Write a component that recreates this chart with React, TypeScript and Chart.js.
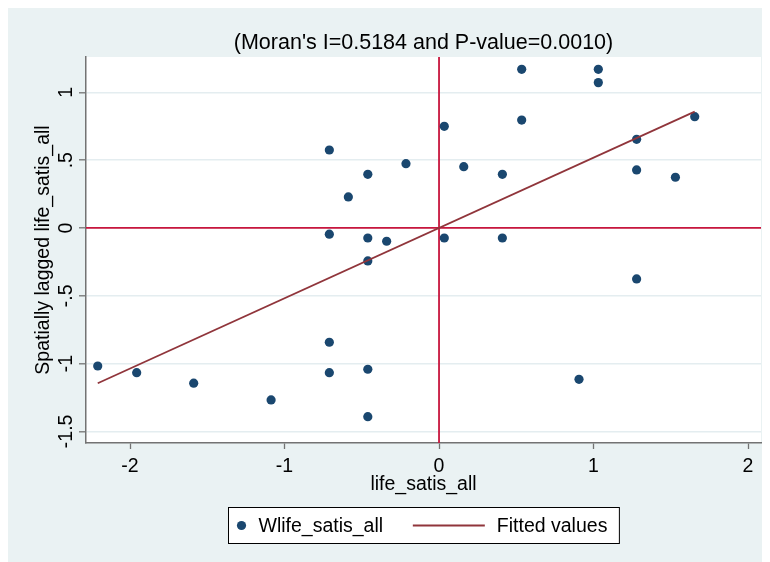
import React, { useEffect, useRef } from 'react';
import { Chart, registerables } from 'chart.js';

Chart.register(...registerables);

// ---- Data ----
const lifeSatisAll = [
  -0.71, -0.461, -0.587, -0.214, 0.034, -0.71, -0.461, -0.339, -0.461, 0.034,
  0.535, 1.031, 1.031, 0.535, 0.16, 0.41, 1.279, 1.279, 1.53, 1.655, 0.41,
  -2.209, -1.957, -1.588, -1.087, -0.71, -0.71, -0.461, -0.461, 1.279, 0.906,
];
const wLifeSatisAll = [
  0.575, 0.396, 0.229, 0.474, 0.75, -0.046, -0.074, -0.098, -0.243, -0.074,
  1.17, 1.17, 1.072, 0.796, 0.452, 0.396, 0.654, 0.428, 0.374, 0.821, -0.074,
  -1.018, -1.067, -1.145, -1.268, -0.843, -1.067, -1.042, -1.392, -0.376, -1.116,
];
const fittedX = [-2.209, 1.655];
const fittedY = [-1.145, 0.858];
const refLineX = 0;
const refLineY = 0;
const xRange = [-2.285, 2.084];
const yRange = [-1.586, 1.261];
const xStep = 1;
const yStep = 0.5;

const titleText = "(Moran's I=0.5184 and P-value=0.0010)";
const xTitle = 'life_satis_all';
const yTitle = 'Spatially lagged life_satis_all';
const seriesNames = ['Wlife_satis_all', 'Fitted values'];

// ---- Styles ----
const FONT = '"Liberation Sans", Arial, Helvetica, sans-serif';
const BG = '#eaf2f3';
const NAVY = '#1a476f';
const MAROON = '#90353b';
const CRIMSON = '#c8163e';
const AXIS = '#737373';
const GRID = '#e4edf0';
const TXT = '#000000';
const FS = 19.5;

function fmtTick(v: number): string {
  const r = Math.round(v * 100) / 100;
  if (r === 0) return '0';
  return String(r).replace(/^0\./, '.').replace(/^-0\./, '-.');
}

const bgPlugin = {
  id: 'stataBg',
  beforeDraw(chart: any) {
    const { ctx, chartArea: ca } = chart;
    ctx.save();
    ctx.fillStyle = BG;
    ctx.fillRect(0, 0, chart.width, chart.height);
    ctx.fillStyle = '#ffffff';
    ctx.fillRect(ca.left, ca.top, ca.right - ca.left, ca.bottom - ca.top);
    ctx.restore();
  },
};

const refLinesPlugin = {
  id: 'refLines',
  beforeDatasetsDraw(chart: any) {
    const { ctx, chartArea: ca, scales } = chart;
    const px = scales.x.getPixelForValue(refLineX);
    const py = scales.y.getPixelForValue(refLineY);
    ctx.save();
    ctx.strokeStyle = CRIMSON;
    ctx.lineWidth = 1.8;
    ctx.beginPath();
    ctx.moveTo(px, ca.top);
    ctx.lineTo(px, ca.bottom);
    ctx.moveTo(ca.left, py);
    ctx.lineTo(ca.right, py);
    ctx.stroke();
    ctx.restore();
  },
};

const yLabelsPlugin = {
  id: 'yRotLabels',
  afterDraw(chart: any) {
    const { ctx } = chart;
    const ys = chart.scales.y;
    ctx.save();
    ctx.font = `${FS}px ${FONT}`;
    ctx.fillStyle = TXT;
    ctx.textAlign = 'center';
    ctx.textBaseline = 'middle';
    const x = ys.right - 19.5;
    ys.ticks.forEach((t: any) => {
      const y = ys.getPixelForValue(t.value);
      ctx.save();
      ctx.translate(x, y);
      ctx.rotate(-Math.PI / 2);
      ctx.fillText(fmtTick(t.value), 0, 0);
      ctx.restore();
    });
    ctx.restore();
  },
};

const legendPlugin = {
  id: 'boxLegend',
  afterDraw(chart: any) {
    const { ctx, chartArea: ca } = chart;
    const ds = chart.data.datasets;
    ctx.save();
    ctx.font = `${FS}px ${FONT}`;
    const w1 = ctx.measureText(seriesNames[0]).width;
    const w2 = ctx.measureText(seriesNames[1]).width;
    const W = 13 + 17 + w1 + 29.7 + 72 + 12 + w2 + 12;
    const H = 36;
    const cx = (ca.left + ca.right) / 2;
    const x0 = Math.round(cx - W / 2) + 0.5;
    const y0 = chart.height - 55 + 0.5;
    ctx.fillStyle = '#ffffff';
    ctx.fillRect(x0, y0, W, H);
    ctx.strokeStyle = '#000000';
    ctx.lineWidth = 1;
    ctx.strokeRect(x0, y0, W, H);
    const cy = y0 + H / 2;
    ctx.fillStyle = ds[0].backgroundColor;
    ctx.beginPath();
    ctx.arc(x0 + 13, cy, 4.6, 0, Math.PI * 2);
    ctx.fill();
    ctx.fillStyle = TXT;
    ctx.textAlign = 'left';
    ctx.textBaseline = 'middle';
    ctx.fillText(seriesNames[0], x0 + 30, cy + 1);
    const lx = x0 + 30 + w1 + 29.7;
    ctx.strokeStyle = ds[1].borderColor;
    ctx.lineWidth = 1.8;
    ctx.beginPath();
    ctx.moveTo(lx, cy);
    ctx.lineTo(lx + 72, cy);
    ctx.stroke();
    ctx.fillText(seriesNames[1], lx + 84, cy + 1);
    ctx.restore();
  },
};

export default function App() {
  const ref = useRef<HTMLCanvasElement | null>(null);

  useEffect(() => {
    document.documentElement.style.overflow = 'hidden';
    document.body.style.overflow = 'hidden';
    const canvas = ref.current;
    if (!canvas) return;
    const font = { family: FONT, size: FS, weight: 'normal' as const, lineHeight: 1.2 };
    const chart = new Chart(canvas, {
      type: 'scatter',
      data: {
        datasets: [
          {
            type: 'scatter',
            label: seriesNames[0],
            data: lifeSatisAll.map((x, i) => ({ x, y: wLifeSatisAll[i] })),
            backgroundColor: NAVY,
            borderColor: NAVY,
            borderWidth: 0,
            pointRadius: 4.6,
            pointHoverRadius: 4.6,
            order: 1,
          } as any,
          {
            type: 'line',
            label: seriesNames[1],
            data: fittedX.map((x, i) => ({ x, y: fittedY[i] })),
            borderColor: MAROON,
            backgroundColor: MAROON,
            borderWidth: 1.8,
            pointRadius: 0,
            fill: false,
            tension: 0,
            order: 0,
          } as any,
        ],
      },
      options: {
        animation: false,
        responsive: false,
        devicePixelRatio: 1,
        layout: { padding: { left: 0, right: 9, top: 0, bottom: 65.3 } },
        plugins: {
          legend: { display: false },
          tooltip: { enabled: false },
          title: {
            display: true,
            text: titleText,
            fullSize: false,
            color: TXT,
            font: { family: FONT, size: 21.5, weight: 'normal', lineHeight: 1.2 },
            padding: { top: 21.8, bottom: 1.4 },
          },
        },
        scales: {
          x: {
            type: 'linear',
            position: 'bottom',
            min: xRange[0],
            max: xRange[1],
            ticks: {
              stepSize: xStep,
              includeBounds: false,
              color: TXT,
              font,
              padding: 6,
              maxRotation: 0,
              callback: (v: any) => fmtTick(Number(v)),
            },
            grid: {
              drawOnChartArea: false,
              drawTicks: true,
              tickLength: 6,
              tickColor: AXIS,
              tickWidth: 1.3,
            },
            border: { display: true, color: AXIS, width: 1.5 },
            title: {
              display: true,
              text: xTitle,
              color: TXT,
              font,
              padding: { top: 0, bottom: 0 },
            },
            afterFit: (s: any) => {
              s.height = 53.7;
            },
          },
          y: {
            type: 'linear',
            position: 'left',
            min: yRange[0],
            max: yRange[1],
            ticks: {
              stepSize: yStep,
              includeBounds: false,
              display: false,
            },
            grid: {
              color: GRID,
              lineWidth: 1.6,
              drawTicks: true,
              tickLength: 7,
              tickColor: AXIS,
              tickWidth: 1.3,
            },
            border: { display: true, color: AXIS, width: 1.5 },
            title: {
              display: true,
              text: yTitle,
              color: TXT,
              font,
              padding: { top: 23.6, bottom: 0 },
            },
            afterFit: (s: any) => {
              s.width = 78;
            },
          },
        },
      } as any,
      plugins: [bgPlugin, refLinesPlugin, yLabelsPlugin, legendPlugin],
    });
    return () => chart.destroy();
  }, []);

  return (
    <canvas
      ref={ref}
      width={762}
      height={554}
      style={{ display: 'block', width: 762, height: 554 }}
    />
  );
}
